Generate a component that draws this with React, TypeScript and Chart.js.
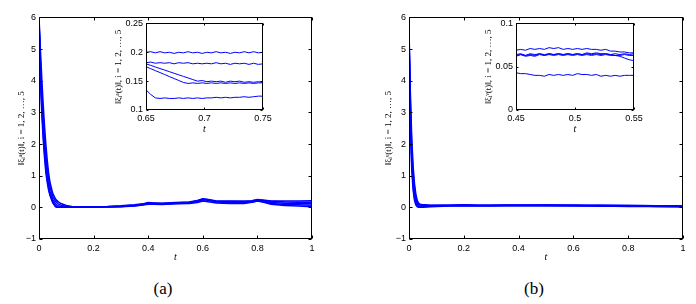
import React, { useEffect, useRef } from "react";
import { Chart, registerables } from "chart.js";
Chart.register(...registerables);

// ---------- tick labels ----------
const mainXTicks = [0, 0.2, 0.4, 0.6, 0.8, 1];
const mainYTicks = [-1, 0, 1, 2, 3, 4, 5, 6];
const insetAXTicks = [0.65, 0.7, 0.75];
const insetAYTicks = [0.1, 0.15, 0.2, 0.25];
const insetBXTicks = [0.45, 0.5, 0.55];
const insetBYTicks = [0, 0.05, 0.1];

const titleA = "‖ξᵢᵃ(t)‖, i = 1, 2, …, 5";
const titleB = "‖ξᵢᵛ(t)‖, i = 1, 2, …, 5";
const captionA = "(a)";
const captionB = "(b)";

// ---------- panel (a) main ----------
const mainA_t = [0, 0.005, 0.01, 0.015, 0.02, 0.025, 0.03, 0.035, 0.04, 0.05, 0.06, 0.065, 0.07, 0.08, 0.1, 0.12, 0.15, 0.2, 0.25, 0.3, 0.35, 0.38, 0.4, 0.42, 0.45, 0.5, 0.55, 0.58, 0.6, 0.62, 0.65, 0.7, 0.75, 0.78, 0.8, 0.82, 0.85, 0.9, 0.95, 1];
const mainA_s1 = [6.0, 5.0, 4.1, 3.3, 2.6, 2.0, 1.5, 1.1, 0.8, 0.45, 0.27, 0.22, 0.18, 0.12, 0.06, 0.03, 0.02, 0.02, 0.03, 0.05, 0.08, 0.11, 0.15, 0.14, 0.13, 0.15, 0.17, 0.22, 0.27, 0.25, 0.2, 0.2, 0.2, 0.21, 0.25, 0.23, 0.2, 0.2, 0.2, 0.21];
const mainA_s2 = [5.95, 4.7, 3.7, 2.9, 2.2, 1.7, 1.25, 0.9, 0.65, 0.35, 0.2, 0.15, 0.11, 0.07, 0.03, 0.02, 0.01, 0.01, 0.02, 0.04, 0.07, 0.1, 0.14, 0.13, 0.12, 0.14, 0.16, 0.2, 0.26, 0.24, 0.182, 0.181, 0.179, 0.2, 0.24, 0.22, 0.19, 0.17, 0.16, 0.16];
const mainA_s3 = [5.9, 4.5, 3.4, 2.6, 1.9, 1.4, 1.0, 0.7, 0.5, 0.25, 0.12, 0.07, 0.05, 0.03, 0.02, 0.01, 0.01, 0.01, 0.02, 0.03, 0.06, 0.09, 0.13, 0.12, 0.11, 0.13, 0.15, 0.19, 0.25, 0.23, 0.18, 0.15, 0.148, 0.18, 0.22, 0.2, 0.15, 0.13, 0.12, 0.11];
const mainA_s4 = [5.85, 4.3, 3.2, 2.4, 1.75, 1.25, 0.9, 0.62, 0.42, 0.18, 0.05, 0.0, 0.0, 0.0, 0.0, 0.01, 0.01, 0.01, 0.02, 0.03, 0.05, 0.08, 0.12, 0.11, 0.1, 0.12, 0.14, 0.18, 0.24, 0.22, 0.175, 0.147, 0.147, 0.17, 0.21, 0.18, 0.12, 0.09, 0.08, 0.07];
const mainA_s5 = [5.8, 4.1, 3.0, 2.2, 1.6, 1.1, 0.8, 0.55, 0.38, 0.15, 0.02, 0.0, 0.0, 0.0, 0.0, 0.0, 0.0, 0.01, 0.01, 0.02, 0.04, 0.07, 0.1, 0.1, 0.09, 0.11, 0.12, 0.15, 0.2, 0.18, 0.135, 0.121, 0.124, 0.16, 0.2, 0.17, 0.1, 0.06, 0.04, 0.02];

// ---------- panel (a) inset ----------
const insetA_t = [0.65, 0.654, 0.658, 0.662, 0.666, 0.67, 0.674, 0.678, 0.682, 0.686, 0.69, 0.694, 0.698, 0.702, 0.706, 0.71, 0.714, 0.718, 0.722, 0.726, 0.73, 0.734, 0.738, 0.742, 0.746, 0.75];
const insetA_s1 = [0.200, 0.201, 0.199, 0.201, 0.199, 0.200, 0.198, 0.200, 0.199, 0.201, 0.199, 0.200, 0.198, 0.200, 0.199, 0.201, 0.199, 0.200, 0.198, 0.200, 0.199, 0.201, 0.199, 0.201, 0.199, 0.200];
const insetA_s2 = [0.182, 0.183, 0.181, 0.182, 0.181, 0.182, 0.180, 0.182, 0.181, 0.182, 0.180, 0.181, 0.180, 0.181, 0.180, 0.182, 0.180, 0.181, 0.179, 0.181, 0.180, 0.181, 0.179, 0.181, 0.179, 0.180];
const insetA_s3 = [0.180, 0.1773, 0.1745, 0.1718, 0.1691, 0.1664, 0.1636, 0.1609, 0.1582, 0.1555, 0.1527, 0.150, 0.151, 0.149, 0.150, 0.149, 0.150, 0.148, 0.150, 0.149, 0.150, 0.148, 0.149, 0.148, 0.149, 0.148];
const insetA_s4 = [0.175, 0.1716, 0.1682, 0.1648, 0.1614, 0.1579, 0.1545, 0.1511, 0.1477, 0.146, 0.147, 0.146, 0.147, 0.146, 0.147, 0.146, 0.147, 0.146, 0.147, 0.146, 0.147, 0.146, 0.147, 0.146, 0.147, 0.147];
const insetA_s5 = [0.135, 0.127, 0.121, 0.120, 0.121, 0.120, 0.120, 0.121, 0.120, 0.121, 0.120, 0.121, 0.120, 0.121, 0.121, 0.122, 0.121, 0.122, 0.121, 0.122, 0.122, 0.123, 0.122, 0.123, 0.124, 0.124];

// ---------- panel (b) main ----------
const mainB_t = [0, 0.005, 0.01, 0.015, 0.02, 0.025, 0.03, 0.035, 0.04, 0.05, 0.06, 0.08, 0.1, 0.15, 0.2, 0.25, 0.3, 0.35, 0.4, 0.45, 0.5, 0.55, 0.6, 0.65, 0.7, 0.75, 0.8, 0.85, 0.9, 0.95, 1];
const mainB_s1 = [5.6, 3.6, 2.2, 1.3, 0.75, 0.42, 0.22, 0.13, 0.1, 0.08, 0.08, 0.07, 0.07, 0.07, 0.08, 0.07, 0.07, 0.07, 0.07, 0.07, 0.072, 0.07, 0.07, 0.07, 0.07, 0.06, 0.06, 0.06, 0.05, 0.05, 0.05];
const mainB_s2 = [5.5, 3.3, 1.9, 1.1, 0.6, 0.32, 0.16, 0.09, 0.07, 0.06, 0.06, 0.06, 0.06, 0.06, 0.07, 0.06, 0.06, 0.065, 0.065, 0.064, 0.065, 0.065, 0.065, 0.06, 0.06, 0.06, 0.06, 0.05, 0.05, 0.04, 0.04];
const mainB_s3 = [5.4, 3.0, 1.6, 0.9, 0.45, 0.22, 0.1, 0.05, 0.03, 0.03, 0.04, 0.05, 0.06, 0.06, 0.07, 0.06, 0.06, 0.063, 0.063, 0.063, 0.064, 0.063, 0.064, 0.06, 0.06, 0.055, 0.05, 0.05, 0.04, 0.04, 0.03];
const mainB_s4 = [5.3, 2.8, 1.4, 0.7, 0.32, 0.13, 0.04, 0.01, 0.0, 0.01, 0.02, 0.04, 0.05, 0.06, 0.07, 0.06, 0.06, 0.064, 0.065, 0.064, 0.065, 0.057, 0.05, 0.05, 0.05, 0.045, 0.04, 0.04, 0.03, 0.03, 0.02];
const mainB_s5 = [5.2, 2.6, 1.2, 0.55, 0.22, 0.08, 0.02, 0.0, 0.0, 0.0, 0.01, 0.02, 0.03, 0.04, 0.05, 0.045, 0.045, 0.043, 0.042, 0.041, 0.041, 0.04, 0.04, 0.04, 0.035, 0.035, 0.03, 0.03, 0.025, 0.02, 0.02];

// ---------- panel (b) inset ----------
const insetB_t = [0.45, 0.454, 0.458, 0.462, 0.466, 0.47, 0.474, 0.478, 0.482, 0.486, 0.49, 0.494, 0.498, 0.502, 0.506, 0.51, 0.514, 0.518, 0.522, 0.526, 0.53, 0.534, 0.538, 0.542, 0.546, 0.55];
const insetB_s1 = [0.069, 0.070, 0.069, 0.071, 0.070, 0.071, 0.070, 0.072, 0.071, 0.072, 0.070, 0.071, 0.070, 0.071, 0.070, 0.071, 0.070, 0.070, 0.069, 0.070, 0.068, 0.068, 0.067, 0.067, 0.066, 0.066];
const insetB_s2 = [0.064, 0.065, 0.063, 0.065, 0.064, 0.065, 0.063, 0.065, 0.064, 0.065, 0.064, 0.065, 0.064, 0.065, 0.064, 0.065, 0.064, 0.065, 0.064, 0.065, 0.064, 0.065, 0.064, 0.065, 0.064, 0.065];
const insetB_s3 = [0.062, 0.064, 0.062, 0.063, 0.062, 0.064, 0.063, 0.064, 0.063, 0.064, 0.063, 0.064, 0.063, 0.064, 0.063, 0.064, 0.063, 0.064, 0.063, 0.064, 0.063, 0.063, 0.063, 0.064, 0.063, 0.063];
const insetB_s4 = [0.063, 0.064, 0.063, 0.064, 0.063, 0.065, 0.064, 0.065, 0.064, 0.065, 0.064, 0.065, 0.064, 0.065, 0.064, 0.066, 0.065, 0.066, 0.065, 0.065, 0.064, 0.063, 0.062, 0.060, 0.058, 0.057];
const insetB_s5 = [0.043, 0.042, 0.042, 0.041, 0.040, 0.040, 0.039, 0.041, 0.040, 0.041, 0.040, 0.041, 0.040, 0.042, 0.041, 0.041, 0.040, 0.041, 0.039, 0.040, 0.039, 0.040, 0.039, 0.040, 0.040, 0.040];

const BLUE = "rgb(0,0,255)";
const TICK_FONT = { family: "'Liberation Sans', Arial, sans-serif", size: 9 };

const boxPlugin = {
  id: "boxTicks",
  beforeDraw(chart: any) {
    const { ctx, chartArea: a } = chart;
    ctx.save();
    ctx.fillStyle = "#fff";
    ctx.fillRect(a.left, a.top, a.right - a.left, a.bottom - a.top);
    ctx.restore();
  },
  afterDraw(chart: any, _args: any, opts: any) {
    const { ctx, chartArea: a } = chart;
    const len = opts.len || 3;
    const xs = chart.scales.x;
    const ys = chart.scales.y;
    const L = Math.round(a.left) + 0.5;
    const R = Math.round(a.right) - 0.5;
    const T = Math.round(a.top) + 0.5;
    const B = Math.round(a.bottom) - 0.5;
    ctx.save();
    ctx.strokeStyle = "#000";
    ctx.lineWidth = 1;
    ctx.beginPath();
    xs.ticks.forEach((t: any) => {
      const p = Math.round(xs.getPixelForValue(t.value)) + 0.5;
      ctx.moveTo(p, B);
      ctx.lineTo(p, B - len);
      ctx.moveTo(p, T);
      ctx.lineTo(p, T + len);
    });
    ys.ticks.forEach((t: any) => {
      const p = Math.round(ys.getPixelForValue(t.value)) + 0.5;
      ctx.moveTo(L, p);
      ctx.lineTo(L + len, p);
      ctx.moveTo(R, p);
      ctx.lineTo(R - len, p);
    });
    ctx.stroke();
    ctx.strokeRect(L, T, R - L, B - T);
    ctx.restore();
  },
};

type Spec = {
  l: number; t: number; r: number; b: number;
  yAxisW: number; xAxisH: number; padTop: number; padRight: number;
  yTitlePad: number; xTitlePad: number; xLabelPad: number;
  xMin: number; xMax: number; yMin: number; yMax: number;
  xTicks: number[]; yTicks: number[];
  xs: number[]; series: number[][];
  yTitle: string; lineWidth: number; tickLen: number;
};

function fmt(v: number) {
  const s = String(Math.round(v * 10000) / 10000);
  return s.replace("-", "−");
}

function Plot({ s }: { s: Spec }) {
  const ref = useRef<HTMLCanvasElement | null>(null);
  const left = s.l - s.yAxisW;
  const top = s.t - s.padTop;
  const width = s.r + s.padRight - left;
  const height = s.b + s.xAxisH - top;
  useEffect(() => {
    if (!ref.current) return;
    const chart = new Chart(ref.current, {
      type: "line",
      data: {
        datasets: s.series.map((ys) => ({
          data: s.xs.map((x, i) => ({ x, y: ys[i] })),
          borderColor: BLUE,
          borderWidth: s.lineWidth,
          pointRadius: 0,
          tension: 0,
          fill: false,
        })),
      },
      options: {
        responsive: false,
        animation: false,
        events: [],
        layout: { padding: { top: s.padTop, right: s.padRight, left: 0, bottom: 0 } },
        plugins: {
          legend: { display: false },
          tooltip: { enabled: false },
          boxTicks: { len: s.tickLen },
        } as any,
        scales: {
          x: {
            type: "linear",
            min: s.xMin,
            max: s.xMax,
            afterBuildTicks: (sc: any) => { sc.ticks = s.xTicks.map((v) => ({ value: v })); },
            afterFit: (sc: any) => { sc.height = s.xAxisH; },
            grid: { display: false, drawTicks: false },
            border: { display: false },
            ticks: { font: TICK_FONT, color: "#000", padding: s.xLabelPad, maxRotation: 0, autoSkip: false, callback: (v: any) => fmt(Number(v)) },
            title: {
              display: true,
              text: "t",
              color: "#000",
              font: { family: "'Liberation Serif', 'Times New Roman', serif", size: 10, style: "italic" },
              padding: { top: 0, bottom: s.xTitlePad },
            },
          },
          y: {
            type: "linear",
            min: s.yMin,
            max: s.yMax,
            afterBuildTicks: (sc: any) => { sc.ticks = s.yTicks.map((v) => ({ value: v })); },
            afterFit: (sc: any) => { sc.width = s.yAxisW; },
            grid: { display: false, drawTicks: false },
            border: { display: false },
            ticks: { font: TICK_FONT, color: "#000", padding: 3, autoSkip: false, callback: (v: any) => fmt(Number(v)) },
            title: {
              display: true,
              text: s.yTitle,
              color: "#000",
              font: { family: "'Liberation Serif', 'DejaVu Serif', serif", size: 9 },
              padding: { top: s.yTitlePad, bottom: 0 },
            },
          },
        },
      },
      plugins: [boxPlugin as any],
    });
    return () => chart.destroy();
  }, []);
  return (
    <canvas
      ref={ref}
      width={width}
      height={height}
      style={{ position: "absolute", left, top, width, height }}
    />
  );
}

const specs: Spec[] = [
  {
    l: 39, t: 17, r: 312, b: 239, yAxisW: 24, xAxisH: 26, padTop: 8, padRight: 10,
    yTitlePad: 1, xTitlePad: 2, xLabelPad: 4,
    xMin: 0, xMax: 1, yMin: -1, yMax: 6, xTicks: mainXTicks, yTicks: mainYTicks,
    xs: mainA_t, series: [mainA_s1, mainA_s2, mainA_s3, mainA_s4, mainA_s5],
    yTitle: titleA, lineWidth: 1.5, tickLen: 3,
  },
  {
    l: 409, t: 17, r: 683, b: 239, yAxisW: 30, xAxisH: 26, padTop: 8, padRight: 10,
    yTitlePad: 4, xTitlePad: 2, xLabelPad: 4,
    xMin: 0, xMax: 1, yMin: -1, yMax: 6, xTicks: mainXTicks, yTicks: mainYTicks,
    xs: mainB_t, series: [mainB_s1, mainB_s2, mainB_s3, mainB_s4, mainB_s5],
    yTitle: titleB, lineWidth: 1.5, tickLen: 3,
  },
  {
    l: 146, t: 23, r: 263, b: 110, yAxisW: 34, xAxisH: 26, padTop: 8, padRight: 14,
    yTitlePad: 1, xTitlePad: 1, xLabelPad: 3,
    xMin: 0.65, xMax: 0.75, yMin: 0.1, yMax: 0.25, xTicks: insetAXTicks, yTicks: insetAYTicks,
    xs: insetA_t, series: [insetA_s1, insetA_s2, insetA_s3, insetA_s4, insetA_s5],
    yTitle: titleA, lineWidth: 1, tickLen: 2,
  },
  {
    l: 516, t: 23, r: 634, b: 110, yAxisW: 34, xAxisH: 26, padTop: 8, padRight: 14,
    yTitlePad: 1, xTitlePad: 1, xLabelPad: 3,
    xMin: 0.45, xMax: 0.55, yMin: 0, yMax: 0.1, xTicks: insetBXTicks, yTicks: insetBYTicks,
    xs: insetB_t, series: [insetB_s1, insetB_s2, insetB_s3, insetB_s4, insetB_s5],
    yTitle: titleB, lineWidth: 1, tickLen: 2,
  },
];

const captionStyle: React.CSSProperties = {
  position: "absolute",
  top: 279,
  width: 60,
  textAlign: "center",
  fontFamily: "'Liberation Serif', 'Times New Roman', serif",
  fontSize: 17,
  lineHeight: "19px",
  color: "#000",
};

export default function App() {
  return (
    <div style={{ position: "absolute", left: 0, top: 0, width: 696, height: 304, background: "#fff", overflow: "hidden" }}>
      {specs.map((s, i) => (
        <Plot key={i} s={s} />
      ))}
      <div style={{ ...captionStyle, left: 133 }}>{captionA}</div>
      <div style={{ ...captionStyle, left: 504 }}>{captionB}</div>
    </div>
  );
}
